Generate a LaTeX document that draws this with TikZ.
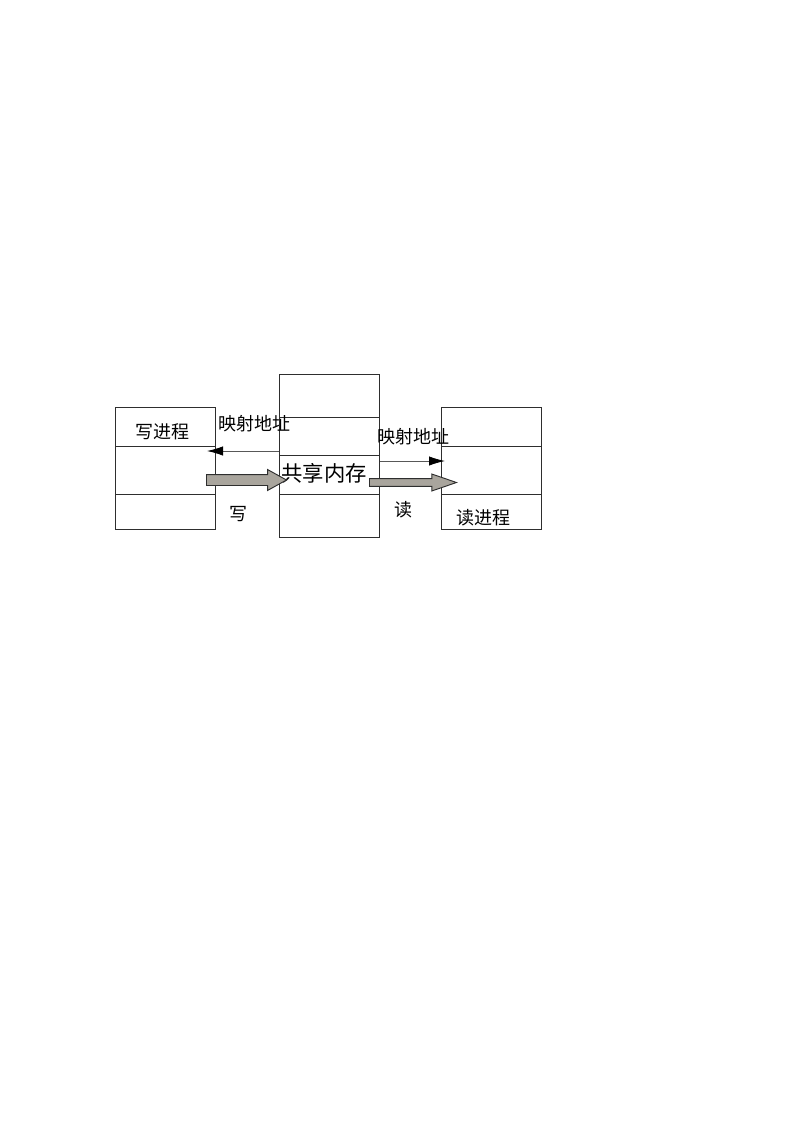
\documentclass[tikz,border=0pt]{standalone}
\usepackage{fontspec}
\setmainfont{Noto Sans CJK SC}
\usetikzlibrary{arrows.meta,shapes.arrows}

\definecolor{linegray}{HTML}{2E2E2E}
\definecolor{arrowfill}{HTML}{A9A59D}

\tikzset{
  membox/.style={draw=linegray, line width=1pt, rectangle, anchor=north west,
    minimum width=75pt, inner sep=0pt},
  label/.style={inner sep=0pt, font=\fontsize{13.5pt}{16pt}\selectfont},
  maparrow/.style={draw=linegray!80, line width=0.6pt,
    -{Latex[length=12pt,width=7pt,color=black]}},
  fatarrow/.style={single arrow, draw=linegray, fill=arrowfill, line width=0.7pt,
    anchor=tail, inner xsep=0pt, single arrow head indent=0pt}
}

\begin{document}
\begin{tikzpicture}[x=0.75pt, y=-0.75pt]
  \useasboundingbox (0,0) rectangle (794,1123);

  % --- the three memory blocks ---
  \node[membox, minimum height=91.5pt]   (wproc) at (115,407) {};
  \node[membox, minimum height=122.25pt] (shm)   at (279,374) {};
  \node[membox, minimum height=91.5pt]   (rproc) at (441,407) {};

  % --- row dividers ---
  \foreach \y in {446,494}
    \draw[linegray, line width=0.6pt] (wproc.west |- 0,\y) -- (wproc.east |- 0,\y);
  \foreach \y in {417,455,494}
    \draw[linegray, line width=0.6pt] (shm.west |- 0,\y) -- (shm.east |- 0,\y);
  \foreach \y in {446,494}
    \draw[linegray, line width=0.6pt] (rproc.west |- 0,\y) -- (rproc.east |- 0,\y);

  % --- texts ---
  \node[label] (wname) at (162,432) {写进程};
  \node[label] (rname) at (483,518) {读进程};
  \node[label] (shmname) at (324,473) {\fontsize{16pt}{19pt}\selectfont 共享内存};
  \node[label] (mapl) at (254,424) {映射地址};
  \node[label] (mapr) at (413,437) {映射地址};
  \node[label] (wr) at (238,514) {写};
  \node[label] (rd) at (403,510) {读};

  % --- mapping address arrows ---
  \coordinate (tipL) at (207,451);
  \coordinate (tipR) at (445,461);
  \draw[maparrow] (shm.west |- tipL) -- (tipL);
  \draw[maparrow] (shm.east |- tipR) -- (tipR);

  % --- write / read data arrows ---
  \node[fatarrow, inner ysep=3.75pt, minimum width=15pt, single arrow head extend=3.75pt,
    minimum height=60pt, single arrow tip angle=58] (warrow) at (206,480) {};
  \node[fatarrow, inner ysep=2.6pt, minimum width=12pt, single arrow head extend=3.4pt,
    minimum height=65.25pt, single arrow tip angle=38] (rarrow) at (369,482.5) {};

\end{tikzpicture}
\end{document}
